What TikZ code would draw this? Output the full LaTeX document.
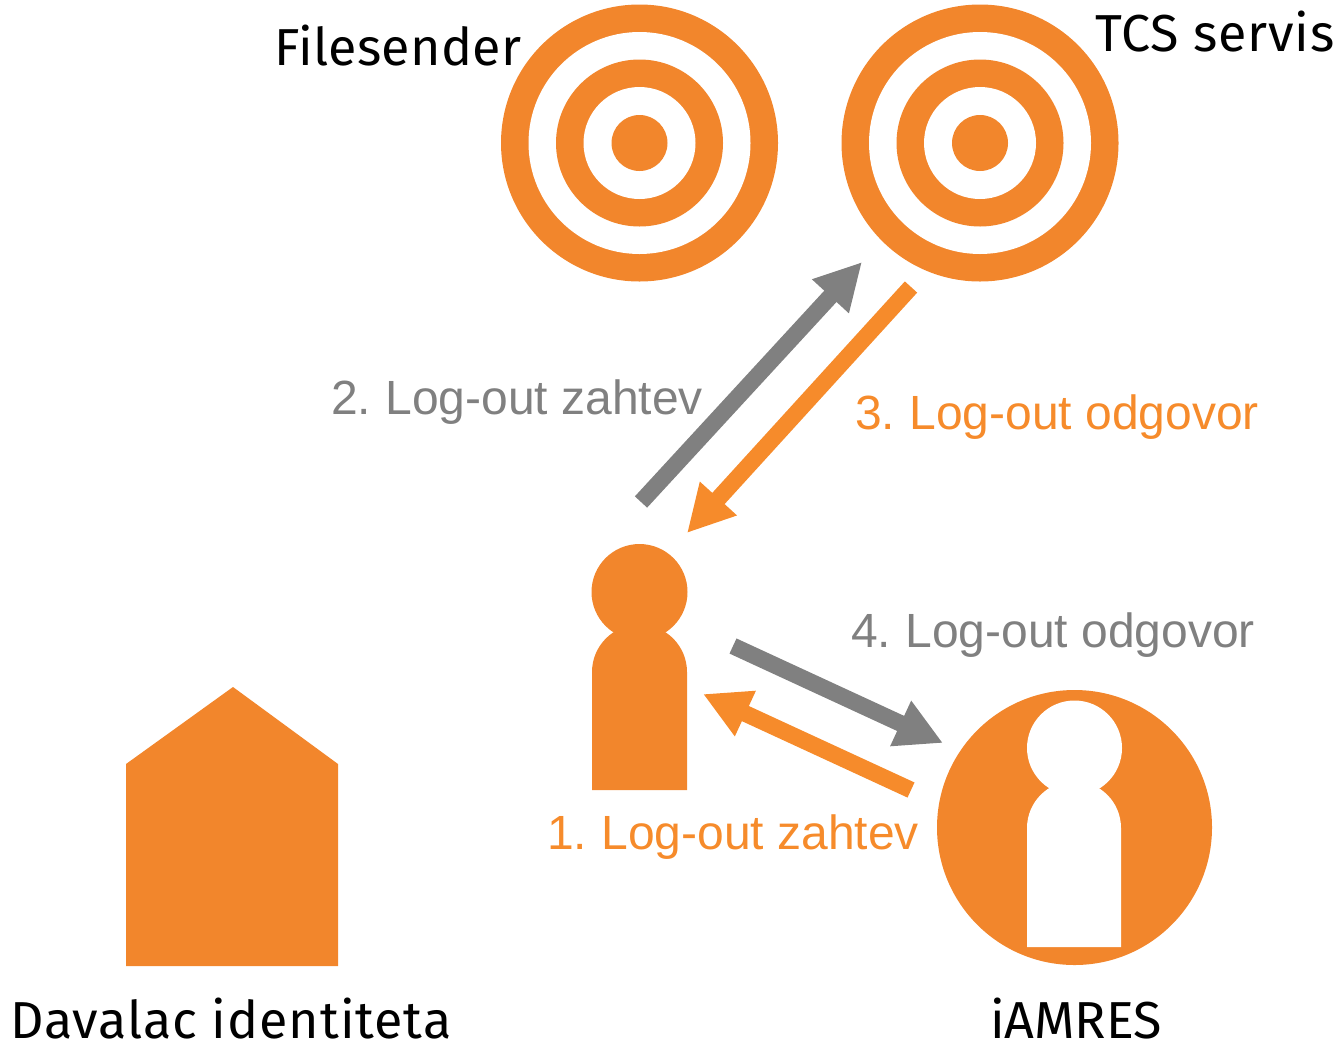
\documentclass[tikz,border=0pt]{standalone}
\usepackage{fontspec}
\setmainfont{Liberation Sans}
\newfontfamily\labfont{Fira Sans}
\usetikzlibrary{arrows.meta}
\definecolor{org}{HTML}{F2862C}
\definecolor{orgb}{HTML}{F68B2B}
\definecolor{gry}{HTML}{808080}
\tikzset{x=0.75pt,y=-0.75pt,
 fat/.style={line width=12.5pt,-{Triangle[length=35pt,width=35pt]}},
 blk/.style={font=\labfont\fontsize{39}{39}\selectfont\addfontfeature{LetterSpace=#1},text=black,inner sep=0,anchor=base},
 lab/.style={font=\fontsize{36}{36}\selectfont,inner sep=0,anchor=base}}
\begin{document}
\begin{tikzpicture}
\useasboundingbox (0,0) rectangle (1344,1043);
\coordinate (a) at (639.5,143);
\coordinate (b) at (980,143);
\foreach \c in {a,b}{
 \fill[org] (\c) circle[radius=138.5];
 \fill[white] (\c) circle[radius=111];
 \fill[org] (\c) circle[radius=83.5];
 \fill[white] (\c) circle[radius=56];
 \fill[org] (\c) circle[radius=28];
}
% house
\fill[org] (126,966) -- (126,764) -- (233,687) -- (338,764) -- (338,966) -- cycle;
% person
\fill[org] (639.5,592) circle[radius=48];
\fill[org] (592,790) -- (592,672) arc[start angle=180,end angle=360,radius=47.5] -- (687,790) -- cycle;
% iAMRES
\fill[org] (1074.5,827.5) circle[radius=137.5];
\fill[white] (1074.5,748) circle[radius=47.5];
\fill[white] (1027,947) -- (1027,828) arc[start angle=180,end angle=360,radius=47] -- (1121,947) -- cycle;
% arrows
\coordinate (g1s) at (641,502);
\coordinate (g1e) at (862,262);
\coordinate (o1s) at (911,287);
\coordinate (o1e) at (687,533);
\coordinate (g2s) at (733,646);
\coordinate (g2e) at (943,743);
\coordinate (o2s) at (911,790);
\coordinate (o2e) at (703,694);
\draw[gry,fat] (g1s) -- (g1e);
\draw[orgb,fat] (o1s) -- (o1e);
\draw[gry,fat] (g2s) -- (g2e);
\draw[orgb,fat] (o2s) -- (o2e);
% labels
\node[blk=0.5] (t1) at (398,65) {Filesender};
\node[blk=1.5] (t2) at (1215,51) {TCS servis};
\node[blk=1.8] (t3) at (231,1038) {Davalac identiteta};
\node[blk=0] (t4) at (1076,1038) {iAMRES};
\node[lab,text=gry] (l2) at (517,414) {2.\kern0.7pt\ Log-out zahtev};
\node[lab,text=orgb] (l3) at (1057,429) {3.\kern0.7pt\ Log-out odgovor};
\node[lab,text=gry] (l4) at (1053,647) {4.\kern0.7pt\ Log-out odgovor};
\node[lab,text=orgb] (l1) at (733,849) {1.\kern0.7pt\ Log-out zahtev};
\end{tikzpicture}
\end{document}
